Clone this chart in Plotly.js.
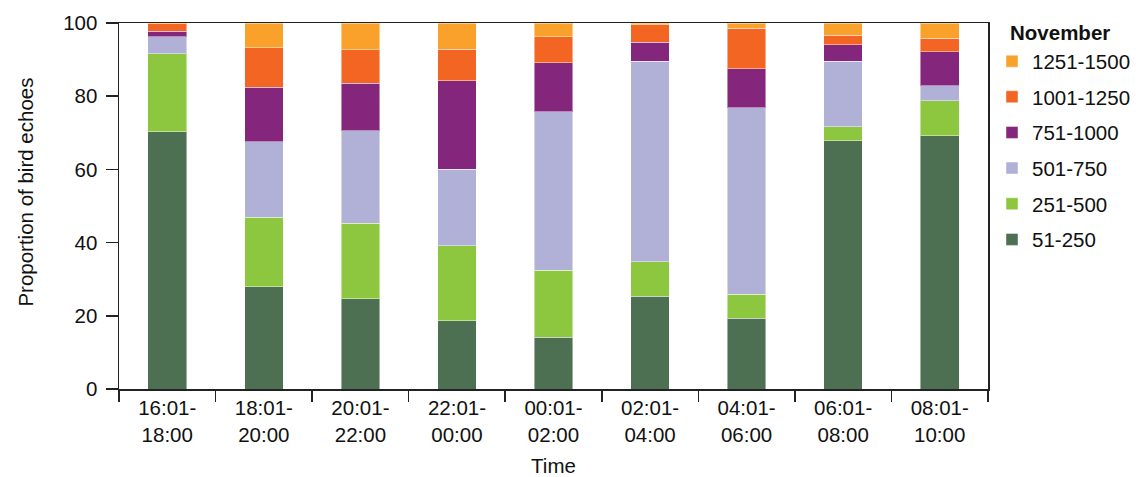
<!DOCTYPE html>
<html>
<head>
<meta charset="utf-8">
<script src="https://cdn.plot.ly/plotly-3.0.1.min.js"></script>
<style>html,body{margin:0;padding:0;background:#fff;}#chart{width:1136px;height:477px;}</style>
</head>
<body>
<div id="chart"></div>
<script>
const categories = ["16:01-<br>18:00","18:01-<br>20:00","20:01-<br>22:00","22:01-<br>00:00","00:01-<br>02:00","02:01-<br>04:00","04:01-<br>06:00","06:01-<br>08:00","08:01-<br>10:00"];
const seriesNames = ["51-250","251-500","501-750","751-1000","1001-1250","1251-1500"];
const s51_250     = [70.3, 28.0, 24.7, 18.7, 14.1, 25.3, 19.3, 67.8, 69.2];
const s251_500    = [21.3, 18.9, 20.6, 20.5, 18.3,  9.5,  6.6,  3.8,  9.6];
const s501_750    = [ 4.6, 20.6, 25.2, 20.9, 43.3, 54.8, 50.9, 18.0,  4.1];
const s751_1000   = [ 1.6, 15.0, 13.0, 24.1, 13.4,  5.2, 10.7,  4.4,  9.3];
const s1001_1250  = [ 2.0, 10.8,  9.2,  8.6,  7.1,  4.7, 11.1,  2.6,  3.7];
const s1251_1500  = [ 0.2,  6.7,  7.3,  7.2,  3.8,  0.5,  1.4,  3.4,  4.1];
const seriesValues = [s51_250, s251_500, s501_750, s751_1000, s1001_1250, s1251_1500];
const colors = ["#4D7052","#8DC63F","#B1B1D8","#84277C","#F26522","#F9A12B"];
const yTicks = [0,20,40,60,80,100];
const legendTitle = "November";
const xTitle = "Time";
const yTitle = "Proportion of bird echoes";

const font = "Liberation Sans, Arial, sans-serif";
const fs = 20.5;
const traces = seriesNames.map((n,i)=>({
  type:"bar", name:n, x:categories, y:seriesValues[i],
  legendgroup:"g"+i, legendrank: seriesNames.length - i,
  marker:{color:colors[i], line:{color:"rgba(255,255,255,0.45)", width:1}},
  hoverinfo:"skip"
}));

const layout = {
  width:1136, height:477,
  margin:{l:119, r:148, t:23, b:88, autoexpand:false},
  barmode:"stack", bargap:0.6,
  paper_bgcolor:"#fff", plot_bgcolor:"#fff",
  font:{family:font, size:fs, color:"#111"},
  showlegend:true,
  legend:{traceorder:"grouped", tracegroupgap:6, x:1.0046, xanchor:"left", y:0.95, yanchor:"top",
          font:{family:font, size:fs, color:"#111"}, itemclick:false},
  xaxis:{type:"category", showline:true, linecolor:"#222", linewidth:1.5, mirror:true,
         ticks:"outside", tickson:"boundaries", ticklen:11, tickcolor:"#222", tickwidth:1.5,
         tickfont:{family:font, size:fs, color:"#111"},
         title:{text:xTitle, font:{family:font, size:fs, color:"#111"}, standoff:14},
         showgrid:false},
  yaxis:{range:[0,100], tickvals:yTicks, ticktext:yTicks.map(String), showline:true, linecolor:"#222", linewidth:1.5, mirror:true,
         ticks:"outside", ticklen:12, tickcolor:"#222", tickwidth:1.5, showgrid:false, zeroline:false,
         ticklabelstandoff:4,
         tickfont:{family:font, size:fs, color:"#111"}},
  annotations:[
    {text:"<b>"+legendTitle+"</b>", xref:"paper", yref:"paper", x:1.023, xanchor:"left", y:0.975, yanchor:"middle",
     showarrow:false, font:{family:font, size:fs, color:"#111"}},
    {text:yTitle, xref:"paper", yref:"paper", x:-0.108, xanchor:"center", y:0.537, yanchor:"middle", textangle:-90,
     showarrow:false, font:{family:font, size:fs, color:"#111"}}
  ]
};
Plotly.newPlot("chart", traces, layout, {displayModeBar:false, staticPlot:true});
</script>
</body>
</html>
